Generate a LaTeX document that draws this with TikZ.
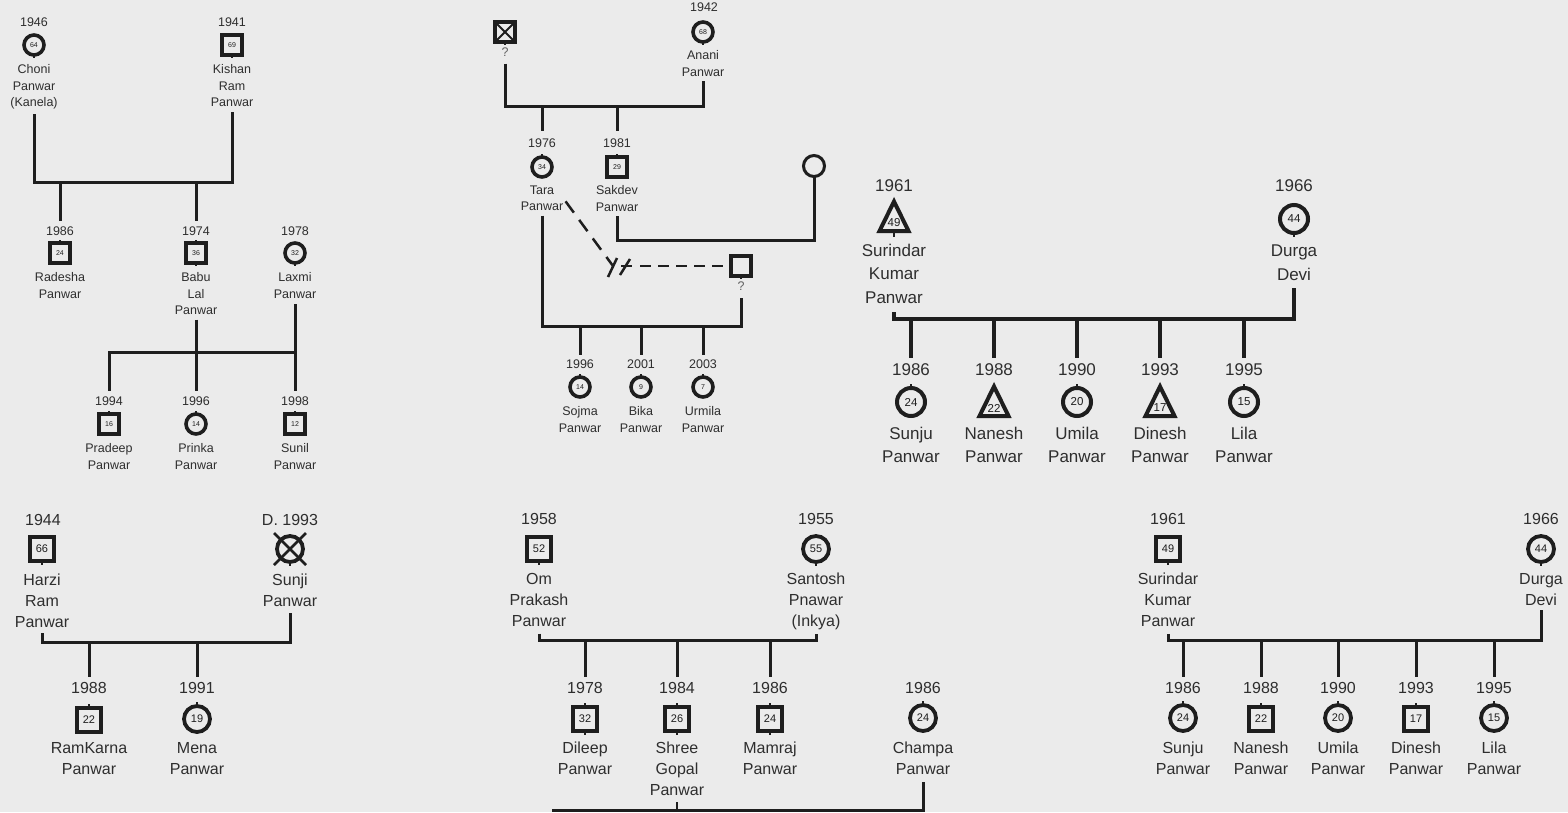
\documentclass[tikz,border=0pt]{standalone}
\usepackage{fontspec}
\setmainfont{Liberation Sans}
\usetikzlibrary{calc,positioning}
\definecolor{paper}{HTML}{EBEBEB}
\definecolor{ink}{HTML}{1E1E1E}
\definecolor{txtc}{HTML}{2E2E2E}
\tikzset{
  lbl/.style={inner sep=0pt, outer sep=0pt, text=txtc, align=center},
  ts/.style={lbl, font=\fontsize{12.5}{16.5}\selectfont},
  tm/.style={lbl, font=\fontsize{17}{23.5}\selectfont},
  tb/.style={lbl, font=\fontsize{16}{21}\selectfont},
  qm/.style={lbl, text=ink!70, font=\fontsize{12.5}{13}\selectfont},
  sym/.style={draw=ink, inner sep=0pt, outer sep=0pt, text=ink},
  ss/.style={sym, line width=3.6pt, minimum size=20pt, font=\fontsize{7}{8}\selectfont},
  sb/.style={sym, line width=3.8pt, minimum size=24pt, font=\fontsize{11}{12}\selectfont},
  cb/.style={sb, circle, minimum size=26pt},
  cmid/.style={sym, circle, line width=4pt, minimum size=28pt, font=\fontsize{11.5}{12}\selectfont},
  triM/.style={inner sep=0pt, outer sep=0pt, text=ink, font=\fontsize{11.5}{12}\selectfont},
  triline/.style={draw=ink, line width=4pt, line join=miter},
  cross/.style={path picture={\draw[ink, line width=1.8pt]
    (path picture bounding box.south west) -- (path picture bounding box.north east)
    (path picture bounding box.north west) -- (path picture bounding box.south east);}},
  xl/.style={draw=ink, line width=2.5pt},
  stub/.style={draw=ink, line width=2.5pt},
  tie/.style={draw=ink, line width=3pt},
  rel/.style={draw=ink, line width=2.5pt, dash pattern=on 11pt off 7pt}}

\begin{document}
\begin{tikzpicture}[x=1pt, y=-1pt]
  \fill[paper] (0,0) rectangle (1568,812);
  \useasboundingbox (0,0) rectangle (1568,812);

  % Choni + Kishan
  \foreach \id/\x/\yr/\nm in {choni/34/1946/{Choni\\Panwar\\(Kanela)}, kishan/232/1941/{Kishan\\Ram\\Panwar}}{
    \node[ts] (\id Y) at (\x,22) {\yr};
    \node[ts, anchor=north] (\id N) at (\x,64.5) {\nm};
  }
  \node[ss, circle] (choni) at (34,45) {64};
  \node[ss] (kishan) at (232,45) {69};
  \draw[stub] (choni.south) -- ++(0,3) (kishan.south) -- ++(0,3);
  \coordinate (mA) at (133,182);
  \draw[tie, shorten <=5pt, shorten >=5pt] (choniN.south) |- (mA) -| (kishanN.south);
  \foreach \id/\x/\yr/\nm in {rad/60/1986/{Radesha\\Panwar}, babu/196/1974/{Babu\\Lal\\Panwar}, laxmi/295/1978/{Laxmi\\Panwar}}{
    \node[ts] (\id Y) at (\x,231) {\yr};
    \node[ts, anchor=north] (\id N) at (\x,272.5) {\nm};
  }
  \node[ss] (rad) at (60,253) {24};
  \node[ss] (babu) at (196,253) {36};
  \node[ss, circle] (laxmi) at (295,253) {32};
  \draw[stub] (rad.north) -- ++(0,-3) (babu.north) -- ++(0,-3) (babu.south) -- ++(0,3) (laxmi.south) -- ++(0,3);
  \foreach \id in {rad,babu}{\draw[tie, shorten >=6pt] (mA -| \id Y) -- (\id Y.north);}
  % Babu + Laxmi
  \foreach \id/\x/\yr/\nm in {prad/109/1994/Pradeep, prinka/196/1996/Prinka, sunil/295/1998/Sunil}{
    \node[ts] (\id Y) at (\x,401) {\yr};
    \node[ts, anchor=north] (\id N) at (\x,443.5) {\nm\\Panwar};
  }
  \node[ss] (prad) at (109,424) {16};
  \node[ss, circle] (prinka) at (196,424) {14};
  \node[ss] (sunil) at (295,424) {12};
  \draw[stub] (prad.north) -- ++(0,-3) (prinka.north) -- ++(0,-3) (sunil.north) -- ++(0,-3);
  \coordinate (mB) at (200,352);
  \draw[tie, shorten <=5pt, shorten >=6pt] (babuN.south) -- (prinkaY.north);
  \draw[tie, shorten <=6pt, shorten >=6pt] (laxmiN.south) -- (sunilY.north);
  \draw[tie, shorten >=6pt] (mB -| laxmiN) -| (pradY.north);

  % Anani family
  \node[ss, cross] (unkA) at (505,32) {};
  \node[qm, below=6pt of unkA] (unkAq) {?};
  \node[ss, circle] (anani) at (703,32) {68};
  \node[ts] (ananiY) at (704,7) {1942};
  \node[ts, anchor=north] (ananiN) at (703,50.5) {Anani\\Panwar};
  \draw[stub] (unkA.south) -- ++(0,3) (anani.south) -- ++(0,3);
  \coordinate (mC) at (600,106);
  \draw[tie, shorten <=7pt, shorten >=5pt] (unkAq.south) |- (mC) -| (ananiN.south);
  \foreach \id/\x/\yr/\nm in {tara/542/1976/Tara, sak/617/1981/Sakdev}{
    \node[ts] (\id Y) at (\x,143) {\yr};
    \node[ts, anchor=north] (\id N) at (\x,185.5) {\nm\\Panwar};
    \draw[tie, shorten >=8pt] (mC -| \id Y) -- (\id Y.north);
  }
  \node[ss, circle] (tara) at (542,167) {34};
  \node[ss] (sak) at (617,167) {29};
  \draw[stub] (tara.north) -- ++(0,-3) (sak.north) -- ++(0,-3);
  \node[ss, circle, minimum size=21pt, line width=3pt] (sakW) at (814,166) {};
  \coordinate (mD) at (700,240);
  \draw[tie, shorten <=5pt] (sakN.south) |- (mD) -| (sakW.south);
  \node[ss] (unkB) at (741,266) {};
  \node[qm, below=6pt of unkB] (unkBq) {?};
  \draw[stub] (unkB.south) -- ++(0,3);
  \coordinate (mE) at (640,326);
  \draw[tie, shorten <=5pt, shorten >=7pt] (taraN.south) |- (mE) -| (unkBq.south);
  % broken union
  \coordinate (brk) at (613,266);
  \draw[rel, dash pattern=on 14pt off 9pt, shorten <=4pt] (taraN.east) -- (brk);
  \draw[rel] ($(brk)+(27,0)$) -- (unkB.west);
  \draw[tie, line width=2.5pt] ($(brk)+(8,0)$) -- ++(11,0);
  \draw[tie, line width=2.5pt] ($(brk)+(4,-8)$) -- ++(-9,19) ($(brk)+(17,-7)$) -- ++(-10,16);
  \foreach \id/\x/\yr/\age/\nm in {sojma/580/1996/14/Sojma, bika/641/2001/9/Bika, urmila/703/2003/7/Urmila}{
    \node[ts] (\id Y) at (\x,364) {\yr};
    \node[ss, circle] (\id) at (\x,387) {\age};
    \node[ts, anchor=north] (\id N) at (\x,406.5) {\nm\\Panwar};
    \draw[stub] (\id.north) -- ++(0,-3);
    \draw[tie, shorten >=5pt] (mE -| \id Y) -- (\id Y.north);
  }

  % Surindar + Durga (triangles)
  \node[tm] (surY) at (894,186) {1961};
  \node[triM] (sur) at (894,223) {49};
  \draw[triline] ($(sur)+(0,-21.5)$) -- ($(sur)+(14.5,8)$) -- ($(sur)+(-14.5,8)$) -- cycle;
  \draw[stub] ($(sur)+(0,10)$) -- ++(0,4);
  \node[tm, anchor=north] (surN) at (894,244) {Surindar\\Kumar\\Panwar};
  \node[tm] (durY) at (1294,186) {1966};
  \node[cmid] (dur) at (1294,219) {44};
  \draw[stub] (dur.south) -- ++(0,4);
  \node[tm, anchor=north] (durN) at (1294,245) {Durga\\Devi};
  \coordinate (mF) at (1090,319);
  \draw[tie, line width=3.5pt, shorten <=9pt, shorten >=8pt] (surN.south) |- (mF) -| (durN.south);
  \foreach \id/\x/\yr/\nm in {c1/911/1986/Sunju, c2/994/1988/Nanesh, c3/1077/1990/Umila, c4/1160/1993/Dinesh, c5/1244/1995/Lila}{
    \node[tm] (\id Y) at (\x,370) {\yr};
    \node[tm, anchor=north] (\id N) at (\x,427) {\nm\\Panwar};
    \draw[tie, line width=3.5pt, shorten >=6pt] (mF -| \id Y) -- (\id Y.north);
  }
  \foreach \id/\x/\age in {c1/911/24, c3/1077/20, c5/1244/15}{
    \node[cmid] (\id) at (\x,402) {\age};
    \draw[stub] (\id.north) -- ++(0,-4);
  }
  \foreach \id/\x/\age in {c2/994/22, c4/1160/17}{
    \node[triM] (\id) at (\x,408) {\age};
    \draw[triline] ($(\id)+(0,-21.5)$) -- ($(\id)+(14.5,8)$) -- ($(\id)+(-14.5,8)$) -- cycle;
  }

  % Harzi + Sunji
  \node[tb] (harY) at (43,520) {1944};
  \node[sb] (har) at (42,549) {66};
  \node[tb, anchor=north] (harN) at (42,574.3) {Harzi\\Ram\\Panwar};
  \node[tb] (sunjiY) at (290,520) {D. 1993};
  \node[cb] (sunji) at (290,549) {};
  \draw[xl] ([shift={(-16,-16)}]sunji.center) -- ([shift={(16,16)}]sunji.center)
            ([shift={(16,-16)}]sunji.center) -- ([shift={(-16,16)}]sunji.center);
  \node[tb, anchor=north] (sunjiN) at (290,574.3) {Sunji\\Panwar};
  \draw[stub] (har.south) -- ++(0,4) (sunji.south) -- ++(0,4);
  \coordinate (mG) at (160,642);
  \draw[tie, shorten <=5pt, shorten >=6pt] (harN.south) |- (mG) -| (sunjiN.south);
  \foreach \id/\x/\yr/\nm in {ramk/89/1988/RamKarna, mena/197/1991/Mena}{
    \node[tb] (\id Y) at (\x,688) {\yr};
    \node[tb, anchor=north] (\id N) at (\x,742.3) {\nm\\Panwar};
    \draw[tie, shorten >=5pt] (mG -| \id Y) -- (\id Y.north);
  }
  \node[sb] (ramk) at (89,720) {22};
  \node[cb] (mena) at (197,719) {19};
  \draw[stub] (ramk.north) -- ++(0,-4) (mena.north) -- ++(0,-4);

  % Om + Santosh
  \node[tb] (omY) at (539,519) {1958};
  \node[sb] (om) at (539,549) {52};
  \node[tb, anchor=north] (omN) at (539,573.3) {Om\\Prakash\\Panwar};
  \node[tb] (santY) at (816,519) {1955};
  \node[cb] (sant) at (816,549) {55};
  \node[tb, anchor=north] (santN) at (816,573.3) {Santosh\\Pnawar\\(Inkya)};
  \draw[stub] (om.south) -- ++(0,4) (sant.south) -- ++(0,4);
  \coordinate (mH) at (677,640);
  \draw[tie, shorten <=7pt, shorten >=4pt] (omN.south) |- (mH) -| (santN.south);
  \foreach \id/\x/\yr/\nm in {dil/585/1978/{Dileep\\Panwar}, shree/677/1984/{Shree\\Gopal\\Panwar}, mam/770/1986/{Mamraj\\Panwar}, champa/923/1986/{Champa\\Panwar}}{
    \node[tb] (\id Y) at (\x,688) {\yr};
    \node[tb, anchor=north] (\id N) at (\x,742.3) {\nm};
  }
  \foreach \id/\x/\age in {dil/585/32, shree/677/26, mam/770/24}{
    \node[sb] (\id) at (\x,719) {\age};
    \draw[stub] (\id.north) -- ++(0,-4) (\id.south) -- ++(0,4);
    \draw[tie, shorten >=5pt] (mH -| \id Y) -- (\id Y.north);
  }
  \node[cb] (champa) at (923,718) {24};
  \draw[stub] (champa.north) -- ++(0,-4);
  \coordinate (mI) at (552,810);
  \draw[tie, shorten >=7pt] (mI) -| (champaN.south);
  \draw[tie, line width=2.5pt, shorten <=6pt] (shreeN.south) -- (shreeN.south |- mI);

  % Surindar + Durga (squares)
  \node[tb] (sur2Y) at (1168,519) {1961};
  \node[sb] (sur2) at (1168,549) {49};
  \node[tb, anchor=north] (sur2N) at (1168,573) {Surindar\\Kumar\\Panwar};
  \node[tb] (dur2Y) at (1541,519) {1966};
  \node[cb] (dur2) at (1541,549) {44};
  \node[tb, anchor=north] (dur2N) at (1541,573) {Durga\\Devi};
  \draw[stub] (sur2.south) -- ++(0,4) (dur2.south) -- ++(0,4);
  \coordinate (mJ) at (1350,640);
  \draw[tie, shorten <=7pt, shorten >=5pt] (sur2N.south) |- (mJ) -| (dur2N.south);
  \foreach \id/\x/\yr/\nm in {f1/1183/1986/Sunju, f2/1261/1988/Nanesh, f3/1338/1990/Umila, f4/1416/1993/Dinesh, f5/1494/1995/Lila}{
    \node[tb] (\id Y) at (\x,688) {\yr};
    \node[tb, anchor=north] (\id N) at (\x,742.3) {\nm\\Panwar};
    \draw[tie, shorten >=5pt] (mJ -| \id Y) -- (\id Y.north);
  }
  \foreach \id/\x/\age in {f1/1183/24, f3/1338/20, f5/1494/15}{
    \node[cb] (\id) at (\x,718) {\age};
    \draw[stub] (\id.north) -- ++(0,-4);
  }
  \foreach \id/\x/\age in {f2/1261/22, f4/1416/17}{
    \node[sb] (\id) at (\x,719) {\age};
    \draw[stub] (\id.north) -- ++(0,-4);
  }
\end{tikzpicture}
\end{document}
